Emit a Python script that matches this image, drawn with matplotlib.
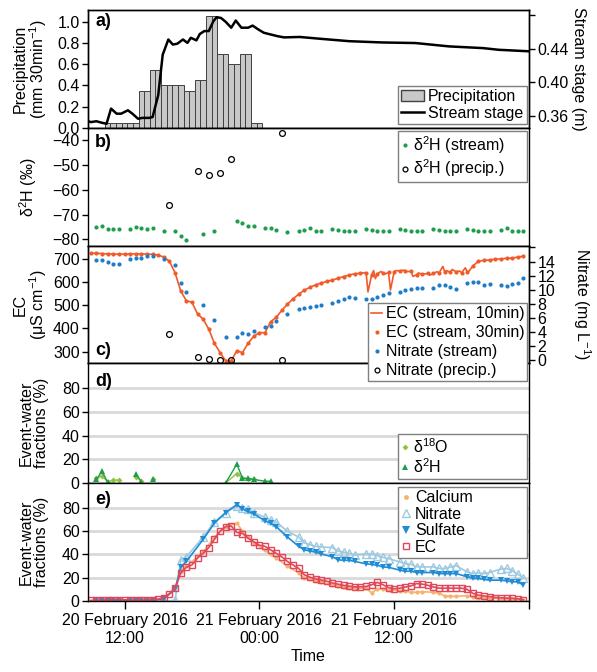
import matplotlib
matplotlib.use("Agg")
import matplotlib.pyplot as plt
import matplotlib.dates as mdates
import numpy as np
import pandas as pd
from matplotlib.patches import Patch
from matplotlib.lines import Line2D

plt.rcParams['font.family'] = ['Liberation Sans', 'DejaVu Sans']
plt.rcParams['font.size'] = 11.5
plt.rcParams['mathtext.fontset'] = 'custom'
plt.rcParams['mathtext.rm'] = 'Liberation Sans'
plt.rcParams['mathtext.it'] = 'Liberation Sans:italic'
plt.rcParams['mathtext.bf'] = 'Liberation Sans:bold'

nan = np.nan
start = pd.Timestamp("2016-02-20 12:00")

# ---- data (hours are relative to 20 Feb 2016 12:00) ----
precip = [0.05, 0.05, 0.05, 0.05, 0.05, 0.05, 0.35, 0.35, 0.55, 0.55, 0.4, 0.4, 0.4, 0.4,
          0.35, 0.35, 0.45, 0.45, 1.05, 1.05, 0.7, 0.7, 0.6, 0.6, 0.7, 0.7, 0.05, 0.05]
precip_start = "2016-02-20 10:30"

stage_hours = [-3.4, -3.0, -2.5, -2.1, -1.6, -1.2, -0.7, -0.3, 0.3, 0.7, 1.2, 1.6, 2.2, 2.5,
               3.0, 3.4, 3.9, 4.3, 4.7, 5.2, 5.6, 5.9, 6.4, 6.7, 7.1, 7.5, 7.9, 8.2, 8.6,
               9.0, 9.5, 9.9, 10.4, 11.0, 11.4, 11.9, 12.4, 13.0, 13.6, 14.2, 15.6, 17.3,
               20.0, 22.9, 25.9, 28.9, 31.9, 33.3, 36.0]
stage = [0.355, 0.353, 0.354, 0.3525, 0.351, 0.369, 0.363, 0.363, 0.367, 0.363, 0.357, 0.358,
         0.358, 0.359, 0.385, 0.433, 0.451, 0.445, 0.446, 0.451, 0.447, 0.453, 0.450, 0.4575,
         0.461, 0.461, 0.4725, 0.4775, 0.4765, 0.472, 0.465, 0.4735, 0.465, 0.465, 0.4675,
         0.463, 0.459, 0.457, 0.455, 0.4535, 0.454, 0.452, 0.449, 0.4475, 0.4468, 0.4428,
         0.4408, 0.4388, 0.437]

# stream grab samples
sample_hours = [-2.5, -2.0, -1.5, -1.0, -0.5, 0.5, 1.0, 1.5, 2.0, 2.5, 3.5, 4.5, 5.0, 5.5,
                7.0, 8.0, 9.0, 10.0, 10.5, 11.0, 11.5, 12.5, 13.0, 13.5, 14.5, 15.5,
                16.0, 16.5, 17.0, 17.5, 18.5, 19.0, 19.5, 20.0, 20.5, 21.5, 22.0, 22.5, 23.0,
                23.5, 24.5, 25.0, 25.5, 26.0, 26.5, 27.5, 28.0, 28.5, 29.0, 29.5, 30.5, 31.0,
                31.5, 32.0, 32.5, 33.5, 34.0, 34.5, 35.0, 35.5]
d2h_stream = [-75.1, -74.6, -75.9, -75.7, -75.7, -75.9, -74.9, -75.5, -75.9, -75.4, -76.5,
              -76.8, -78.6, -80.3, -77.7, -76.8, nan, -72.5, -73.6, -74.6, -74.6, -75.3, -75.3,
              -76.1, -77.0, -76.8,
              -76.3, -75.6, -76.5, -76.5, -75.8, -76.3, -76.5, -76.5, -76.5, -76.0, -76.2,
              -76.5, -76.5, -76.5, -75.8, -76.2, -76.5, -76.5, -76.7, -75.8, -76.2, -76.5,
              -76.5, -76.7, -76.0, -76.2, -76.5, -76.5, -76.7, -76.2, -75.5, -76.5, -76.5, -76.5]
nitrate_stream = [14.2, 14.2, 13.9, 13.7, 13.7, 14.3, 14.5, 14.5, 14.8, 14.8, 14.4, 13.5, 11.0,
                  9.7, 7.8, 5.7, 3.3, 3.3, 3.9, 3.7, 4.2, 4.7, 4.8, 5.5, 6.6, 7.2,
                  7.4, 7.6, 7.7, 7.9, 8.1, 8.4, 8.7, 9.0, 8.8, 8.7, 8.7, 9.0, 9.2, 9.5, 9.7,
                  9.9, 10.1, 10.2, 10.2, 10.3, 10.6, 10.6, 10.4, 10.1, 10.9, 11.1, 11.1, 10.7,
                  10.8, 10.6, 10.5, 10.8, 11.0, 11.7]

# precipitation samples
precip_sample_hours = [4.0, 6.5, 7.5, 8.5, 9.5, 14.0]
d2h_precip = [-66.0, -52.5, -53.8, -53.0, -47.6, -37.2]
nitrate_precip = [3.7, 0.5, 0.1, 0.0, 0.0, 0.0]

# EC, 30-min values starting 20 Feb 09:00
ec30 = [724, 725, 723, 722, 721, 721, 721, 722, 722, 722, 721, 720,
        717, 708, 690, 640, 562, 520, 513, 463, 440, 397, 336, 296, 261, 261, 304, 296,
        336, 366, 382, 382, 429, 448, 478, 505, 528, 548,
        565, 578, 588, 596, 603, 609, 617, 624, 631, 636, 639, 641, 632, 636, 640, 642,
        645, 648, 646, 646, 632, 633, 638, 638, 640, 645, 642, 645, 640, 645, 670, 690,
        694, 696, 699, 700, 703, 704, 708, 712]
ec30_start = "2016-02-20 09:00"
# extra 10-min readings (spikes between the 30-min values)
ec10_extra_hours = [21.67, 22.17, 22.33, 22.83, 23.17, 23.67, 24.17, 24.83, 25.67, 26.17,
                    27.17, 27.83, 28.33, 28.67, 29.17, 29.83, 30.33, 30.67]
ec10_extra = [558, 650, 615, 646, 635, 566, 650, 652, 625, 640, 630, 645, 668, 650, 655,
              648, 662, 648]

# event-water fractions (%)
frac_d18o = [4, 6, 1, 2.5, 2.5, nan, 5, 2, nan, 3, nan, nan, nan, nan, nan, nan, 0, 8, 4, 3, 3,
             nan, nan, nan, nan, nan] + [nan] * 34
frac_d2h = [3, 10, 0.5, nan, nan, nan, 8, 1, nan, 3.5, nan, nan, nan, nan, nan, nan, 0, 16, 4, 4,
            3, 1.5, 1.5, nan, nan, nan] + [nan] * 34
frac_calcium = [0.5, 0.5, 0.5, 0.3, 0.3, 0.5, 0.5, 0.5, 0.3, 0.3, 1.5, 12, 25, 30, 42, 55, 64,
                67, 60, 55, 50, 44, 40, 37, 30, 24,
                20, 18.5, 17, 16, 14, 13, 12, 11.5, 11, 10.8, 7, 10.5, 10, 9.5, 9, 8.5, 7.5,
                7.5, 8, 7.5, 6.5, 4.5, 4, 4, 4.5, 3.5, 3, 3, 2.5, 2, 1.8, 1.5, 1.2, 1.0]
frac_nitrate = [0, 0, 0, 0, 0, 0, 0, 0, 0, 0, 0, 0.5, 35, 38, 55, 68, 76, 82, 80, 79, 76, 72,
                70, 68, 60, 55,
                50, 48.5, 47, 46.4, 46, 43, 42, 41, 39.5, 40.5, 40.5, 39, 37.5, 36.5, 33.6, 32,
                31.5, 29.5, 29.3, 29.3, 28, 27.9, 29, 30.5, 25, 23.6, 24, 23.6, 24.5, 27.5, 28,
                26, 23, 20]
frac_sulfate = [0.5, 0.5, 0.5, 0.5, 0.5, 0.5, 0.5, 0.5, 0.5, 0.5, 2, 10, 29, 34, 53, 67, 76,
                83, 79, 77, 75, 69, 67, 64, 55, 47,
                44, 43, 42, 40.5, 38, 35.5, 35, 35, 34, 32, 31.5, 30.7, 29.3, 29, 26.5, 25.6,
                25.6, 24.5, 24.5, 24.5, 23.6, 23.6, 23.6, 23.6, 21, 19.5, 19.4, 18.5, 17.9,
                17.9, 17.3, 16.5, 16.5, 13.7]
frac_ec = [0.5, 0.5, 0.8, 1.0, 1.0, 1.0, 1.0, 0.8, 0.8, 0.8, 1.0, 1.2,
           1.5, 3, 6, 11, 24, 29, 31, 37, 41, 46, 53, 60, 64, 64.5, 59, 58, 54, 51, 48, 47,
           44, 41, 38, 34, 31, 28,
           22.5, 20.5, 19, 18, 17, 15.5, 14.5, 13.5, 12.8, 12.2, 12.2, 12.5, 14, 16, 14,
           11.5, 10.5, 11, 12, 13, 15, 14.5, 13.5, 12, 11, 11, 11, 11, 11, 10, 6.6, 5, 4.3,
           3.8, 3, 2.8, 2.5, 2.3, 2, 1]


def to_time(hours):
    return start + pd.to_timedelta(np.asarray(hours, dtype=float), unit="h")


precip_t = pd.date_range(precip_start, periods=len(precip), freq="30min")
ec30_t = pd.date_range(ec30_start, periods=len(ec30), freq="30min")
stage_t = to_time(stage_hours)
sample_t = to_time(sample_hours)
precip_sample_t = to_time(precip_sample_hours)

ec10 = pd.Series(list(ec30) + ec10_extra,
                 index=list(ec30_t) + list(to_time(ec10_extra_hours))).sort_index()

# ---- colours ----
c_green = '#1e9e4a'
c_light_green = '#8cc63f'
c_ec = '#f15a29'
c_no3 = '#1f7cc8'
c_ca = '#f8b26a'
c_no3_frac = '#9ecae1'
c_so4 = '#1f8dd6'
c_ec_frac = '#e0475b'

fig = plt.figure(figsize=(5.97, 6.72), dpi=100)
W, H = 597.0, 672.0


def box(top, bottom):
    return [88 / W, 1 - bottom / H, 441 / W, (bottom - top) / H]


ax_a = fig.add_axes(box(10, 128))
ax_b = fig.add_axes(box(128, 246))
ax_c = fig.add_axes(box(246, 363))
ax_d = fig.add_axes(box(363, 483))
ax_e = fig.add_axes(box(483, 601))

x0 = pd.Timestamp("2016-02-20 08:45")
x1 = pd.Timestamp("2016-02-22 00:00")

leg_kw = dict(frameon=True, fancybox=False, framealpha=1, edgecolor='#7f7f7f',
              borderpad=0.2, labelspacing=0.1, handletextpad=0.25, handlelength=1.0,
              borderaxespad=0, mode='expand', numpoints=1, fontsize=11.5)
lab_kw = dict(fontweight='bold', fontsize=13, ha='left')


def marker_handle(marker, **kw):
    return Line2D([], [], linestyle='none', marker=marker, **kw)


# a) precipitation and stream stage
ax_a.bar(precip_t, precip, width=1 / 48, align='center', color='#c8c8c8',
         edgecolor='#404040', linewidth=0.7)
ax_a.set_ylim(0, 1.11)
ax_a.set_yticks([0, 0.2, 0.4, 0.6, 0.8, 1.0])
ax_a.set_yticklabels(['0.0', '0.2', '0.4', '0.6', '0.8', '1.0'])
ax_a.set_ylabel("Precipitation\n(mm 30min$^{-1}$)", linespacing=1.0)
ax_a.yaxis.set_label_coords(-0.088, 0.5)
ax_a2 = ax_a.twinx()
ax_a2.plot(stage_t, stage, color='black', lw=1.8)
ax_a2.set_ylim(0.346, 0.486)
ax_a2.set_yticks([0.36, 0.40, 0.44, 0.48])
ax_a2.set_yticklabels(['0.36', '0.40', '0.44', ''])
ax_a2.set_ylabel("Stream stage (m)", rotation=270, va='bottom')
ax_a2.yaxis.set_label_coords(1.095, 0.5)
ax_a2.legend([Patch(facecolor='#c8c8c8', edgecolor='#404040'),
              Line2D([], [], color='black', lw=1.8)],
             ['Precipitation', 'Stream stage'], loc='lower left',
             bbox_to_anchor=(0.703, 0.034, 0.2925, 0), **dict(leg_kw, handlelength=1.4))
ax_a.text(0.016, 0.975, 'a)', transform=ax_a.transAxes, va='top', **lab_kw)

# b) d2H
ax_b.plot(sample_t, d2h_stream, 'o', color=c_green, ms=3.0, mew=0)
ax_b.plot(precip_sample_t, d2h_precip, 'o', mfc='none', mec='black', ms=4.2, mew=0.9)
ax_b.set_ylim(-82.7, -35)
ax_b.set_yticks([-80, -70, -60, -50, -40])
ax_b.set_ylabel("δ$^{2}$H (‰)")
ax_b.yaxis.set_label_coords(-0.112, 0.5)
ax_b.legend([marker_handle('o', color=c_green, ms=3.0, mew=0),
             marker_handle('o', mfc='none', mec='black', ms=3.5, mew=0.9)],
            ['δ$^{2}$H (stream)', 'δ$^{2}$H (precip.)'],
            loc='upper left', bbox_to_anchor=(0.703, 0.975, 0.2925, 0),
            **dict(leg_kw, handlelength=0.5))
ax_b.text(0.016, 0.95, 'b)', transform=ax_b.transAxes, va='top', **lab_kw)

# c) EC and nitrate
ax_c.plot(ec10.index, ec10.values, '-', color=c_ec, lw=1.2)
ax_c.plot(ec30_t, ec30, 'o', color=c_ec, ms=3.0, mew=0)
ax_c.set_ylim(251, 756)
ax_c.set_yticks([300, 400, 500, 600, 700])
ax_c.set_ylabel("EC\n(μS cm$^{-1}$)", linespacing=1.0)
ax_c.yaxis.set_label_coords(-0.088, 0.5)
ax_c2 = ax_c.twinx()
ax_c2.plot(sample_t, nitrate_stream, 'o', color=c_no3, ms=3.0, mew=0)
ax_c2.plot(precip_sample_t, nitrate_precip, 'o', mfc='none', mec='black', ms=4.2,
           mew=0.9, clip_on=False)
ax_c2.set_ylim(-0.4, 16.2)
ax_c2.set_yticks([0, 2, 4, 6, 8, 10, 12, 14, 16])
ax_c2.set_yticklabels(['0', '2', '4', '6', '8', '10', '12', '14', ''])
ax_c2.set_ylabel("Nitrate (mg L$^{-1}$)", rotation=270, va='bottom')
ax_c2.yaxis.set_label_coords(1.095, 0.5)
ax_c2.legend([Line2D([], [], color=c_ec, lw=1.2),
              marker_handle('o', color=c_ec, ms=3.0, mew=0),
              marker_handle('o', color=c_no3, ms=3.0, mew=0),
              marker_handle('o', mfc='none', mec='black', ms=3.5, mew=0.9)],
             ['EC (stream, 10min)', 'EC (stream, 30min)', 'Nitrate (stream)',
              'Nitrate (precip.)'],
             loc='upper left', bbox_to_anchor=(0.635, 0.513, 0.36, 0),
             **dict(leg_kw, labelspacing=0.25, handlelength=0.7))
ax_c2.set_zorder(10)
ax_c.text(0.016, 0.11, 'c)', transform=ax_c.transAxes, va='center', **lab_kw)

# d) event-water fractions from isotopes
ax_d.plot(sample_t, frac_d18o, '-D', color=c_light_green, ms=3.0, lw=1.0, mew=0)
ax_d.plot(sample_t, frac_d2h, '-^', color=c_green, ms=4.0, lw=1.0, mew=0)
ax_d.legend([marker_handle('D', color=c_light_green, ms=3.0, mew=0),
             marker_handle('^', color=c_green, ms=4.0, mew=0)],
            ['δ$^{18}$O', 'δ$^{2}$H'],
            loc='lower left', bbox_to_anchor=(0.703, 0.033, 0.2925, 0),
            **dict(leg_kw, handlelength=0.5))
ax_d.text(0.016, 0.85, 'd)', transform=ax_d.transAxes, va='center', **lab_kw)

# e) event-water fractions from solutes
ax_e.plot(sample_t, frac_calcium, '-o', color=c_ca, ms=3.0, lw=1.2, mew=0)
ax_e.plot(sample_t, frac_nitrate, '-^', color=c_no3_frac, mfc='none', ms=5.5, lw=1.2,
          mew=1.0)
ax_e.plot(sample_t, frac_sulfate, '-v', color=c_so4, ms=5.0, lw=1.2, mew=0)
ax_e.plot(ec30_t, frac_ec, '-s', color=c_ec_frac, mfc='none', ms=5.0, lw=1.2, mew=1.0)
ax_e.legend([marker_handle('o', color=c_ca, ms=3.5, mew=0),
             marker_handle('^', color=c_no3_frac, mfc='none', ms=6, mew=1.0),
             marker_handle('v', color=c_so4, ms=5.5, mew=0),
             marker_handle('s', color=c_ec_frac, mfc='none', ms=5, mew=1.0)],
            ['Calcium', 'Nitrate', 'Sulfate', 'EC'],
            loc='upper left', bbox_to_anchor=(0.703, 0.966, 0.2925, 0),
            **dict(leg_kw, handlelength=0.6))
ax_e.text(0.016, 0.864, 'e)', transform=ax_e.transAxes, va='center', **lab_kw)

for ax in (ax_d, ax_e):
    ax.set_ylim(0, 101.5)
    ax.set_yticks([0, 20, 40, 60, 80])
    ax.yaxis.grid(True, color='#d9d9d9', lw=2)
    ax.set_axisbelow(True)
    ax.set_ylabel("Event-water\nfractions (%)", linespacing=1.0)
    ax.yaxis.set_label_coords(-0.088, 0.5)

for ax in (ax_a, ax_b, ax_c, ax_d, ax_e, ax_a2, ax_c2):
    ax.set_xlim(x0, x1)
    ax.tick_params(direction='out', length=4, width=1, pad=2, labelsize=11.5)
    for s in ax.spines.values():
        s.set_linewidth(1.0)

for ax in (ax_a, ax_b, ax_c, ax_d, ax_a2, ax_c2):
    ax.tick_params(axis='x', bottom=False, labelbottom=False)

tick_times = pd.to_datetime(["2016-02-20 12:00", "2016-02-21 00:00",
                             "2016-02-21 12:00", "2016-02-22 00:00"])
ax_e.set_xticks(mdates.date2num(tick_times))
ax_e.set_xticklabels(["20 February 2016\n12:00", "21 February 2016\n00:00",
                      "21 February 2016\n12:00", ""])
ax_e.tick_params(axis='x', length=6, pad=3)
ax_e.set_xlabel("Time", labelpad=2)

fig.savefig("out.png", dpi=100)
